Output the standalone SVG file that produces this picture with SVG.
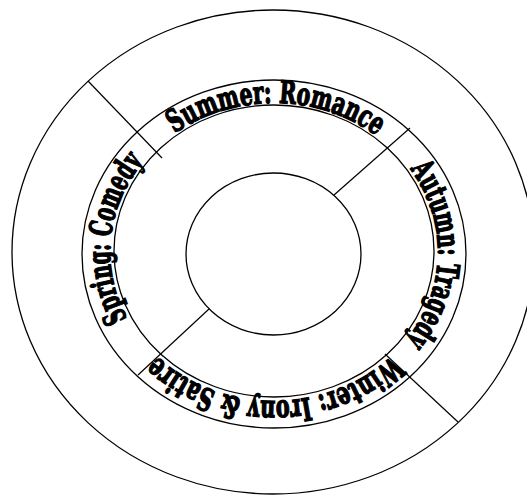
<svg xmlns="http://www.w3.org/2000/svg" width="527" height="495" viewBox="0 0 527 495">
<style>
.ring{fill:none;stroke:#000;stroke-width:1.3}
.div{stroke:#000;stroke-width:1.2;fill:none}
.lbl{font-family:"DejaVu Serif","Liberation Serif",serif;font-weight:bold;font-size:31px;fill:#000;stroke:#000;stroke-width:1.5}
</style>
<defs>
<path id="base" d="M110,252 A164,149 0 1,1 438,252 A164,149 0 1,1 110,252 A164,149 0 1,1 438,252 A164,149 0 1,1 110,252"/>
</defs>
<rect width="527" height="495" fill="#fff"/>
<g id="outer-ring"><ellipse class="ring" cx="273" cy="252" rx="261" ry="242"/></g>
<g id="season-band">
<ellipse class="ring" cx="274" cy="254" rx="192" ry="174"/>
<ellipse class="ring" cx="274" cy="251" rx="160" ry="146"/>
</g>
<g id="center"><ellipse class="ring" cx="273.5" cy="254" rx="87.5" ry="81"/></g>
<g id="connectors">
<line class="div" x1="88" y1="81" x2="162" y2="158"/>
<line class="div" x1="410" y1="128" x2="334" y2="195"/>
<line class="div" x1="209" y1="309" x2="138" y2="375"/>
<line class="div" x1="385" y1="354" x2="458" y2="422"/>
</g>
<g id="summer"><text class="lbl" text-anchor="middle"><textPath href="#base" startOffset="248" textLength="215" lengthAdjust="spacingAndGlyphs">Summer: Romance</textPath></text></g>
<g id="autumn"><text class="lbl" text-anchor="middle"><textPath href="#base" startOffset="495" textLength="185" lengthAdjust="spacingAndGlyphs">Autumn: Tragedy</textPath></text></g>
<g id="winter"><text class="lbl" text-anchor="middle"><textPath href="#base" startOffset="737" textLength="258" lengthAdjust="spacingAndGlyphs">Winter: Irony &amp; Satire</textPath></text></g>
<g id="spring"><text class="lbl" text-anchor="middle"><textPath href="#base" startOffset="998" textLength="168" lengthAdjust="spacingAndGlyphs">Spring: Comedy</textPath></text></g>
</svg>
